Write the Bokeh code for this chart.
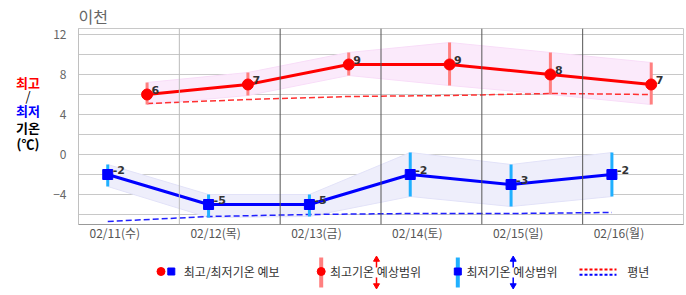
from bokeh.plotting import figure
from bokeh.models import Range1d, FixedTicker, Span, ColumnDataSource
from bokeh.layouts import column, row
from bokeh.embed import file_html
from bokeh.resources import INLINE
from bokeh.core.properties import value

# ---------------- data ----------------
days = ["02/11(수)", "02/12(목)", "02/13(금)", "02/14(토)", "02/15(일)", "02/16(월)"]
tmax = [6, 7, 9, 9, 8, 7]
tmax_hi = [7.2, 8.2, 10.2, 11.2, 10.2, 9.2]
tmax_lo = [5.0, 5.9, 7.9, 6.9, 6.0, 5.0]
tmin = [-2, -5, -5, -2, -3, -2]
tmin_hi = [-1.0, -4.0, -4.0, 0.2, -1.0, 0.2]
tmin_lo = [-3.2, -6.3, -6.2, -4.2, -5.2, -4.2]
norm_max = [5.1, 5.5, 5.8, 5.9, 6.1, 6.0]
norm_min = [-6.7, -6.2, -6.0, -5.9, -5.9, -5.8]
ytick_vals = [-4, 0, 4, 8, 12]
ygrid_vals = [-6, -4, -2, 0, 2, 4, 6, 8, 10, 12]
legend_texts = ["최고/최저기온 예보", "최고기온 예상범위", "최저기온 예상범위", "평년"]
side_texts = ["최고", "/", "최저", "기온", "(℃)"]

# time-of-day offsets (fraction of a day relative to the date label)
MAX_OFF = 0.32
MIN_OFF = -0.07
DAY_EDGE = 0.64

idx = list(range(len(days)))
xmax = [i + MAX_OFF for i in idx]
xmin = [i + MIN_OFF for i in idx]

FONT = "Noto Sans CJK KR"
SIDE_W = 50
TOP, BOTTOM = 28, 26

p = figure(width=686 - SIDE_W, height=250, output_backend="svg", toolbar_location=None,
           x_range=Range1d(-0.36, 5.64), y_range=Range1d(-7, 12.6),
           min_border_left=77 - SIDE_W, min_border_right=3, min_border_top=TOP, min_border_bottom=BOTTOM)
p.background_fill_color = "white"
p.border_fill_color = "white"
p.outline_line_color = "#C8C8C8"
p.title.text = "이천"
p.title.text_font = FONT
p.title.text_font_size = "16px"
p.title.text_font_style = "normal"
p.title.text_color = "#666666"
p.title.align = "left"
p.title.offset = 0
p.title.standoff = 2

p.xgrid.visible = False
p.ygrid.ticker = FixedTicker(ticks=ygrid_vals)
p.ygrid.grid_line_color = "#C8C8C8"

p.yaxis.ticker = FixedTicker(ticks=ytick_vals)
p.yaxis.major_label_overrides = {v: (str(v) if v >= 0 else "\u2212" + str(-v)) for v in ytick_vals}
p.yaxis.axis_line_color = "#C0C0C0"
p.yaxis.major_tick_line_color = None
p.yaxis.minor_tick_line_color = None
p.yaxis.major_label_standoff = 6
p.yaxis.major_label_text_font = FONT
p.yaxis.major_label_text_font_size = "12px"
p.yaxis.major_label_text_color = "#666666"

p.xaxis.ticker = FixedTicker(ticks=idx)
p.xaxis.major_label_overrides = {i: d for i, d in zip(idx, days)}
p.xaxis.axis_line_color = "#999999"
p.xaxis.major_tick_line_color = None
p.xaxis.minor_tick_line_color = None
p.xaxis.major_label_standoff = -7
p.xaxis.major_label_text_font = FONT
p.xaxis.major_label_text_font_size = "12px"
p.xaxis.major_label_text_color = "#555555"

# day boundary lines
for k in range(len(days) - 1):
    p.add_layout(Span(location=k + DAY_EDGE, dimension="height",
                      line_color="#BBBBBB" if k == 0 else "#555555", line_width=1))

src_max = ColumnDataSource(dict(x=xmax, y=tmax, hi=tmax_hi, lo=tmax_lo, nm=norm_max,
                                lab=[str(v) for v in tmax]))
src_min = ColumnDataSource(dict(x=xmin, y=tmin, hi=tmin_hi, lo=tmin_lo, nm=norm_min,
                                lab=[str(v) for v in tmin]))

# range bands
p.varea(x="x", y1="lo", y2="hi", source=src_max, fill_color="#FBEAFB")
p.line(x="x", y="hi", source=src_max, line_color="#F8DDF8", line_width=1)
p.line(x="x", y="lo", source=src_max, line_color="#F8DDF8", line_width=1)
p.varea(x="x", y1="lo", y2="hi", source=src_min, fill_color="#EEEEFB")
p.line(x="x", y="hi", source=src_min, line_color="#E2E2F8", line_width=1)
p.line(x="x", y="lo", source=src_min, line_color="#E2E2F8", line_width=1)

# normals
p.line(x="x", y="nm", source=src_max, line_color="#FF3030", line_width=1.5, line_dash="6 3")
p.line(x="x", y="nm", source=src_min, line_color="#2020FF", line_width=1.5, line_dash="6 3")

# range bars
p.segment(x0="x", y0="lo", x1="x", y1="hi", source=src_max, line_color="#FF8080", line_width=3)
p.segment(x0="x", y0="lo", x1="x", y1="hi", source=src_min, line_color="#20B0FF", line_width=3)

# forecast lines
p.line(x="x", y="y", source=src_max, line_color="#FF0000", line_width=3)
p.scatter(x="x", y="y", source=src_max, marker="circle", size=11, fill_color="#FF0000", line_color="#FF0000")
p.line(x="x", y="y", source=src_min, line_color="#0000FF", line_width=3)
p.scatter(x="x", y="y", source=src_min, marker="square", size=10, fill_color="#0000FF", line_color="#0000FF")

# value labels
for s, xo in ((src_max, 4.5), (src_min, 5)):
    p.text(x="x", y="y", text="lab", source=s, x_offset=xo, y_offset=-5,
           text_font=value("DejaVu Sans"), text_font_style="bold", text_font_size="11px",
           text_color="#333333", text_baseline="alphabetic", text_align="left")

# ---------------- side annotation ----------------
# frame aligned with the main plot's frame; y range in screen pixels (top-down)
side = figure(width=SIDE_W, height=250, output_backend="svg", toolbar_location=None,
              x_range=Range1d(0, SIDE_W), y_range=Range1d(250 - BOTTOM, TOP),
              min_border_left=0, min_border_right=0, min_border_top=TOP, min_border_bottom=BOTTOM,
              x_axis_location=None, y_axis_location=None)
side.outline_line_color = None
side.grid.visible = False
side.background_fill_color = "white"
side.border_fill_color = "white"
side_cols = ["#FF0000", "#000000", "#0000FF", "#000000", "#000000"]
side_y = [81.5, 95, 109.5, 127, 143]
side_style = ["bold", "normal", "bold", "bold", "bold"]
side_size = ["13px", "13px", "13px", "13px", "13px"]
for t, c, yy, st, fs in zip(side_texts, side_cols, side_y, side_style, side_size):
    side.text(x=[27.5], y=[yy], text=[t], text_font=value(FONT), text_font_size=fs,
              text_font_style=st, text_color=c, text_baseline="middle", text_align="center")

# ---------------- legend ----------------
lg = figure(width=686, height=45, output_backend="svg", toolbar_location=None,
            x_range=Range1d(0, 686), y_range=Range1d(45, 0),
            min_border=0, x_axis_location=None, y_axis_location=None)
lg.outline_line_color = None
lg.grid.visible = False
lg.background_fill_color = "white"
lg.border_fill_color = "white"

lg.scatter(x=[160.5], y=[21], marker="circle", size=8, color="#FF0000")
lg.scatter(x=[170.8], y=[21], marker="square", size=7, color="#0000FF")
lg.segment(x0=[320.7], y0=[7], x1=[320.7], y1=[37], line_color="#FF8080", line_width=4)
lg.scatter(x=[320.7], y=[21], marker="circle", size=8, color="#FF0000")
lg.segment(x0=[457.3], y0=[7], x1=[457.3], y1=[37], line_color="#20B0FF", line_width=4)
lg.scatter(x=[457.3], y=[21], marker="square", size=7, color="#0000FF")
for ax, col in ((376, "#FF0000"), (512.7, "#0000FF")):
    lg.segment(x0=[ax, ax], y0=[9, 27], x1=[ax, ax], y1=[17, 35], line_color=col, line_width=1.5)
    lg.scatter(x=[ax], y=[9], marker="triangle", size=6, color=col)
    lg.scatter(x=[ax], y=[35], marker="inverted_triangle", size=6, color=col)
lg.segment(x0=[579], y0=[19], x1=[616], y1=[19], line_color="#FF0000", line_width=2, line_dash="3 2")
lg.segment(x0=[579], y0=[24.3], x1=[616], y1=[24.3], line_color="#0000FF", line_width=2, line_dash="3 2")
lg.text(x=[183.3, 329.5, 466, 626.7], y=[21, 21, 21, 21], text=legend_texts,
        text_font=value(FONT), text_font_size="12px", text_color="#333333",
        text_baseline="middle", text_align="left")

layout = column(row(side, p, spacing=0), lg, spacing=0)
open("out.html", "w").write(file_html(layout, INLINE))
